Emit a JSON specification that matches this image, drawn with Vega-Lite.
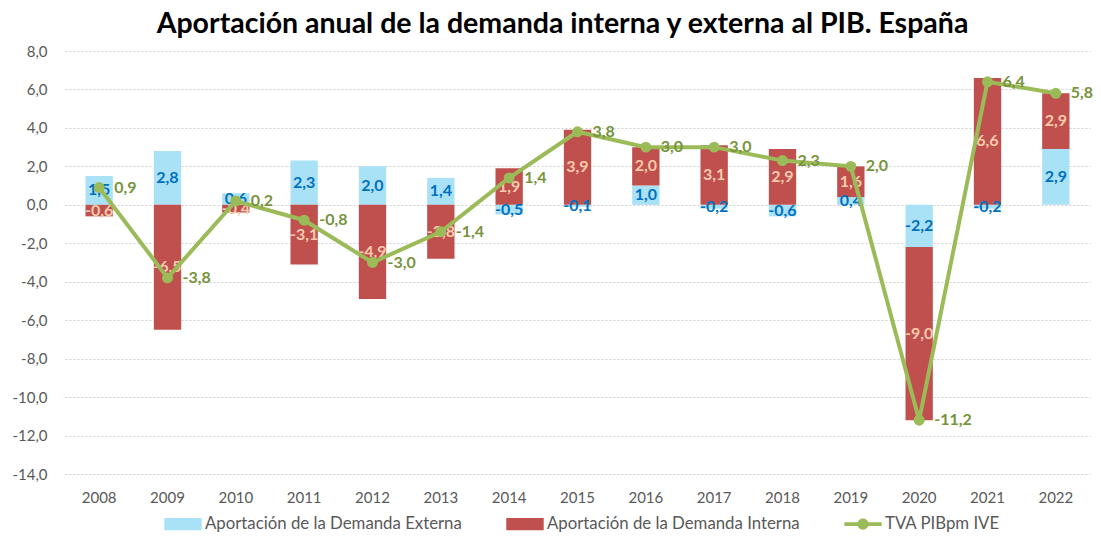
{
  "$schema": "https://vega.github.io/schema/vega-lite/v6.json",
  "width": 1025,
  "height": 423,
  "autosize": {"type": "none"},
  "padding": {"left": 65, "top": 51, "right": 11, "bottom": 63},
  "config": {
    "locale": {"number": {"decimal": ",", "thousands": ".", "grouping": [3], "currency": ["", " €"], "minus": "-"}},
    "view": {"stroke": null},
    "font": "Lato"
  },
  "title": {
    "text": "Aportación anual de la demanda interna y externa al PIB. España",
    "fontSize": 28.5,
    "font": "Lato",
    "fontWeight": "bold",
    "color": "#000000",
    "anchor": "middle",
    "offset": 6,
    "dx": -15
  },
  "datasets": {
    "bars": [
      {"year": "2008", "series": "Aportación de la Demanda Externa", "value": 1.5},
      {"year": "2008", "series": "Aportación de la Demanda Interna", "value": -0.6},
      {"year": "2009", "series": "Aportación de la Demanda Externa", "value": 2.8},
      {"year": "2009", "series": "Aportación de la Demanda Interna", "value": -6.5},
      {"year": "2010", "series": "Aportación de la Demanda Externa", "value": 0.6},
      {"year": "2010", "series": "Aportación de la Demanda Interna", "value": -0.4},
      {"year": "2011", "series": "Aportación de la Demanda Externa", "value": 2.3},
      {"year": "2011", "series": "Aportación de la Demanda Interna", "value": -3.1},
      {"year": "2012", "series": "Aportación de la Demanda Externa", "value": 2.0},
      {"year": "2012", "series": "Aportación de la Demanda Interna", "value": -4.9},
      {"year": "2013", "series": "Aportación de la Demanda Externa", "value": 1.4},
      {"year": "2013", "series": "Aportación de la Demanda Interna", "value": -2.8},
      {"year": "2014", "series": "Aportación de la Demanda Externa", "value": -0.5},
      {"year": "2014", "series": "Aportación de la Demanda Interna", "value": 1.9},
      {"year": "2015", "series": "Aportación de la Demanda Externa", "value": -0.1},
      {"year": "2015", "series": "Aportación de la Demanda Interna", "value": 3.9},
      {"year": "2016", "series": "Aportación de la Demanda Externa", "value": 1.0},
      {"year": "2016", "series": "Aportación de la Demanda Interna", "value": 2.0},
      {"year": "2017", "series": "Aportación de la Demanda Externa", "value": -0.2},
      {"year": "2017", "series": "Aportación de la Demanda Interna", "value": 3.1},
      {"year": "2018", "series": "Aportación de la Demanda Externa", "value": -0.6},
      {"year": "2018", "series": "Aportación de la Demanda Interna", "value": 2.9},
      {"year": "2019", "series": "Aportación de la Demanda Externa", "value": 0.4},
      {"year": "2019", "series": "Aportación de la Demanda Interna", "value": 1.6},
      {"year": "2020", "series": "Aportación de la Demanda Externa", "value": -2.2},
      {"year": "2020", "series": "Aportación de la Demanda Interna", "value": -9.0},
      {"year": "2021", "series": "Aportación de la Demanda Externa", "value": -0.2},
      {"year": "2021", "series": "Aportación de la Demanda Interna", "value": 6.6},
      {"year": "2022", "series": "Aportación de la Demanda Externa", "value": 2.9},
      {"year": "2022", "series": "Aportación de la Demanda Interna", "value": 2.9}
    ],
    "pib": [
      {"year": "2008", "tva": 0.9},
      {"year": "2009", "tva": -3.8},
      {"year": "2010", "tva": 0.2},
      {"year": "2011", "tva": -0.8},
      {"year": "2012", "tva": -3.0},
      {"year": "2013", "tva": -1.4},
      {"year": "2014", "tva": 1.4},
      {"year": "2015", "tva": 3.8},
      {"year": "2016", "tva": 3.0},
      {"year": "2017", "tva": 3.0},
      {"year": "2018", "tva": 2.3},
      {"year": "2019", "tva": 2.0},
      {"year": "2020", "tva": -11.2},
      {"year": "2021", "tva": 6.4},
      {"year": "2022", "tva": 5.8}
    ]
  },
  "encoding": {
    "x": {
      "field": "year",
      "type": "ordinal",
      "scale": {"paddingInner": 0.6, "paddingOuter": 0.3},
      "axis": {
        "title": null,
        "labelAngle": 0,
        "domain": false,
        "ticks": false,
        "grid": false,
        "labelPadding": 16,
        "labelFontSize": 15,
        "labelColor": "#595959",
        "labelFont": "Lato"
      }
    }
  },
  "layer": [
    {
      "data": {"name": "bars"},
      "mark": {"type": "bar"},
      "encoding": {
        "y": {
          "field": "value",
          "type": "quantitative",
          "stack": "zero",
          "scale": {"domain": [-14, 8], "nice": false, "zero": false},
          "axis": {
            "title": null,
            "values": [-14, -12, -10, -8, -6, -4, -2, 0, 2, 4, 6, 8],
            "tickCount": 30,
            "format": ".1f",
            "labelOverlap": false,
            "labelFlush": false,
            "labelFontSize": 15,
            "labelColor": "#595959",
            "labelFont": "Lato",
            "labelPadding": 18,
            "domain": false,
            "ticks": false,
            "gridColor": "#D0D0D0",
            "gridDash": [2, 2],
            "gridWidth": 1
          }
        },
        "color": {
          "field": "series",
          "type": "nominal",
          "scale": {
            "domain": ["Aportación de la Demanda Externa", "Aportación de la Demanda Interna", "TVA PIBpm IVE"],
            "range": ["#A9E1F6", "#C0504D", "#9BBB59"]
          },
          "legend": {
            "orient": "none",
            "legendX": 99,
            "legendY": 454,
            "direction": "horizontal",
            "title": null,
            "labelFontSize": 16.8,
            "labelColor": "#595959",
            "labelFont": "Lato",
            "labelLimit": 400,
            "columnPadding": 44,
            "symbolSize": 1400,
            "labelOffset": 3,
            "symbolType": "M-1,-0.33L1,-0.33L1,0.33L-1,0.33Z",
            "encode": {
              "symbols": {
                "update": {
                  "shape": {"signal": "datum.value === 'TVA PIBpm IVE' ? 'M-1,-0.1L1,-0.1L1,0.1L-1,0.1Z M0.3,0A0.3,0.3,0,1,1,-0.3,0A0.3,0.3,0,1,1,0.3,0Z' : 'M-1,-0.33L1,-0.33L1,0.33L-1,0.33Z'"},
                  "fill": {"scale": "color", "field": "value"},
                  "stroke": {"value": "transparent"},
                  "strokeWidth": {"value": 0},
                  "opacity": {"value": 1}
                }
              }
            }
          }
        },
        "order": {"field": "series", "sort": "ascending"}
      }
    },
    {
      "mark": {"type": "rule", "color": "#808080", "strokeWidth": 1.5},
      "encoding": {"y": {"datum": 0, "type": "quantitative"}, "x": null}
    },
    {
      "data": {"name": "bars"},
      "transform": [
        {"stack": "value", "groupby": ["year"], "sort": [{"field": "series", "order": "ascending"}], "as": ["lo", "hi"], "offset": "zero"},
        {"fold": ["lo", "hi"], "as": ["edge", "pos"]},
        {"filter": "datum.series === 'Aportación de la Demanda Externa'"}
      ],
      "mark": {"type": "text", "fontWeight": "bold", "fontSize": 16, "color": "#0070C0", "font": "Lato", "baseline": "middle"},
      "encoding": {
        "y": {"aggregate": "mean", "field": "pos", "type": "quantitative"},
        "text": {"field": "value", "type": "quantitative", "format": ".1f"}
      }
    },
    {
      "data": {"name": "bars"},
      "transform": [
        {"stack": "value", "groupby": ["year"], "sort": [{"field": "series", "order": "ascending"}], "as": ["lo", "hi"], "offset": "zero"},
        {"fold": ["lo", "hi"], "as": ["edge", "pos"]},
        {"filter": "datum.series === 'Aportación de la Demanda Interna'"}
      ],
      "mark": {"type": "text", "fontWeight": "bold", "fontSize": 16, "color": "#F8CBAD", "font": "Lato", "baseline": "middle"},
      "encoding": {
        "y": {"aggregate": "mean", "field": "pos", "type": "quantitative"},
        "text": {"field": "value", "type": "quantitative", "format": ".1f"}
      }
    },
    {
      "data": {"name": "pib"},
      "mark": {"type": "line", "strokeWidth": 4},
      "encoding": {
        "y": {"field": "tva", "type": "quantitative"},
        "color": {"datum": "TVA PIBpm IVE", "type": "nominal"}
      }
    },
    {
      "data": {"name": "pib"},
      "mark": {"type": "point", "filled": true, "size": 120, "opacity": 1, "color": "#9BBB59"},
      "encoding": {
        "y": {"field": "tva", "type": "quantitative"}
      }
    },
    {
      "data": {"name": "pib"},
      "mark": {"type": "text", "fontWeight": "bold", "fontSize": 16, "color": "#77933C", "font": "Lato", "align": "left", "baseline": "middle", "dx": 15},
      "encoding": {
        "y": {"field": "tva", "type": "quantitative"},
        "text": {"field": "tva", "type": "quantitative", "format": ".1f"}
      }
    }
  ]
}
